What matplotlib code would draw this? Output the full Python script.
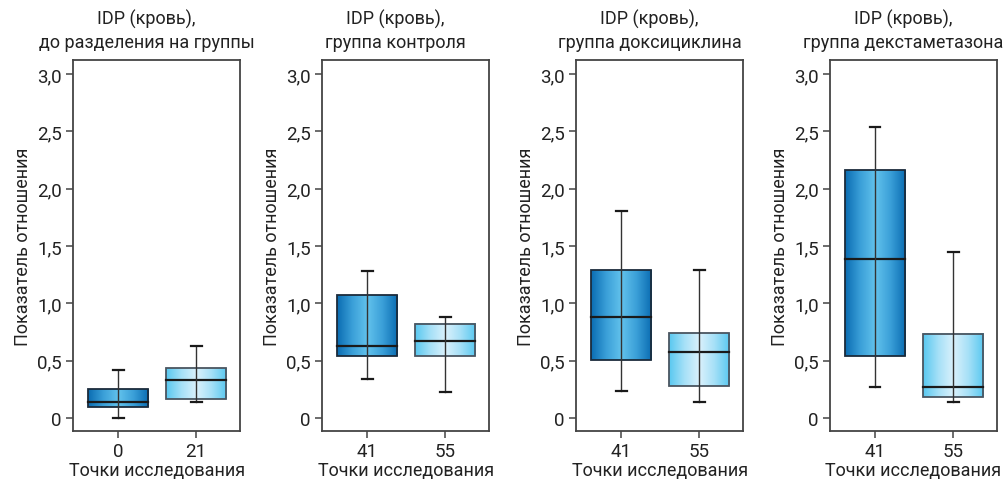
import numpy as np
import matplotlib
matplotlib.use("Agg")
import matplotlib.pyplot as plt
from matplotlib.patches import Rectangle
from matplotlib.colors import LinearSegmentedColormap

plt.rcParams["font.family"] = ["Roboto", "DejaVu Sans"]

titles = [
    "IDP (кровь),\nдо разделения на группы",
    "IDP (кровь),\nгруппа контроля",
    "IDP (кровь),\nгруппа доксициклина",
    "IDP (кровь),\nгруппа декстаметазона",
]
point_labels = [["0", "21"], ["41", "55"], ["41", "55"], ["41", "55"]]

# per panel: [first box, second box]
whisker_low = [[0.00, 0.14], [0.34, 0.23], [0.24, 0.14], [0.27, 0.14]]
q1 = [[0.10, 0.17], [0.54, 0.54], [0.51, 0.28], [0.54, 0.18]]
median = [[0.14, 0.33], [0.63, 0.67], [0.88, 0.58], [1.39, 0.27]]
q3 = [[0.25, 0.44], [1.07, 0.82], [1.29, 0.74], [2.16, 0.73]]
whisker_high = [[0.42, 0.63], [1.28, 0.88], [1.81, 1.29], [2.54, 1.45]]

yticks = [0, 0.5, 1.0, 1.5, 2.0, 2.5, 3.0]
ytick_labels = ["0", "0,5", "1,0", "1,5", "2,0", "2,5", "3,0"]

dark_cmap = LinearSegmentedColormap.from_list(
    "dark", ["#0a6cb2", "#3a9fd8", "#62c2ec", "#3a9fd8", "#0a6cb2"])
light_cmap = LinearSegmentedColormap.from_list(
    "light", ["#58c8f0", "#a5e0f7", "#daf1fc", "#a5e0f7", "#58c8f0"])
cmaps = [dark_cmap, light_cmap]
edge_colors = ["#1b2b3b", "#4a5560"]

fig = plt.figure(figsize=(10.07, 4.81), dpi=100)
lefts = [0.0725, 0.3198, 0.572, 0.8242]
width = 0.166
box_w = 0.77
cap_w = 0.14
grad = np.linspace(0, 1, 256).reshape(1, -1)

for i in range(4):
    ax = fig.add_axes([lefts[i], 0.1019, width, 0.771])
    for j in range(2):
        x = j
        left = x - box_w / 2
        ax.imshow(grad, cmap=cmaps[j], aspect="auto",
                  extent=[left, left + box_w, q1[i][j], q3[i][j]],
                  zorder=2)
        ax.add_patch(Rectangle((left, q1[i][j]), box_w, q3[i][j] - q1[i][j],
                               fill=False, edgecolor=edge_colors[j],
                               linewidth=1.3, zorder=3))
        ax.plot([left, left + box_w], [median[i][j]] * 2,
                color="#1a1a1a", linewidth=1.6, zorder=4)
        ax.plot([x, x], [whisker_low[i][j], whisker_high[i][j]],
                color="#333333", linewidth=1.0, zorder=4)
        for yv in (whisker_low[i][j], whisker_high[i][j]):
            ax.plot([x - cap_w / 2, x + cap_w / 2], [yv, yv],
                    color="#1a1a1a", linewidth=1.6, zorder=4)

    ax.set_xlim(-0.577, 1.564)
    ax.set_ylim(-0.113, 3.122)
    ax.set_xticks([0, 1])
    ax.set_xticklabels(point_labels[i])
    ax.set_yticks(yticks)
    ax.set_yticklabels(ytick_labels)
    ax.tick_params(axis="both", labelsize=13.5, length=5, width=1.1,
                   color="#444444", labelcolor="#222222", pad=3)
    for s in ax.spines.values():
        s.set_color("#444444")
        s.set_linewidth(1.3)
    ax.set_xlabel("Точки исследования", fontsize=13, color="#222222",
                  labelpad=1)
    ax.set_ylabel("Показатель отношения", fontsize=13, color="#222222",
                  labelpad=4)
    ax.text(0.44, 1.024, titles[i], transform=ax.transAxes, ha="center",
            va="bottom", fontsize=13, color="#222222", linespacing=1.4)

fig.savefig("out.png", dpi=100)
